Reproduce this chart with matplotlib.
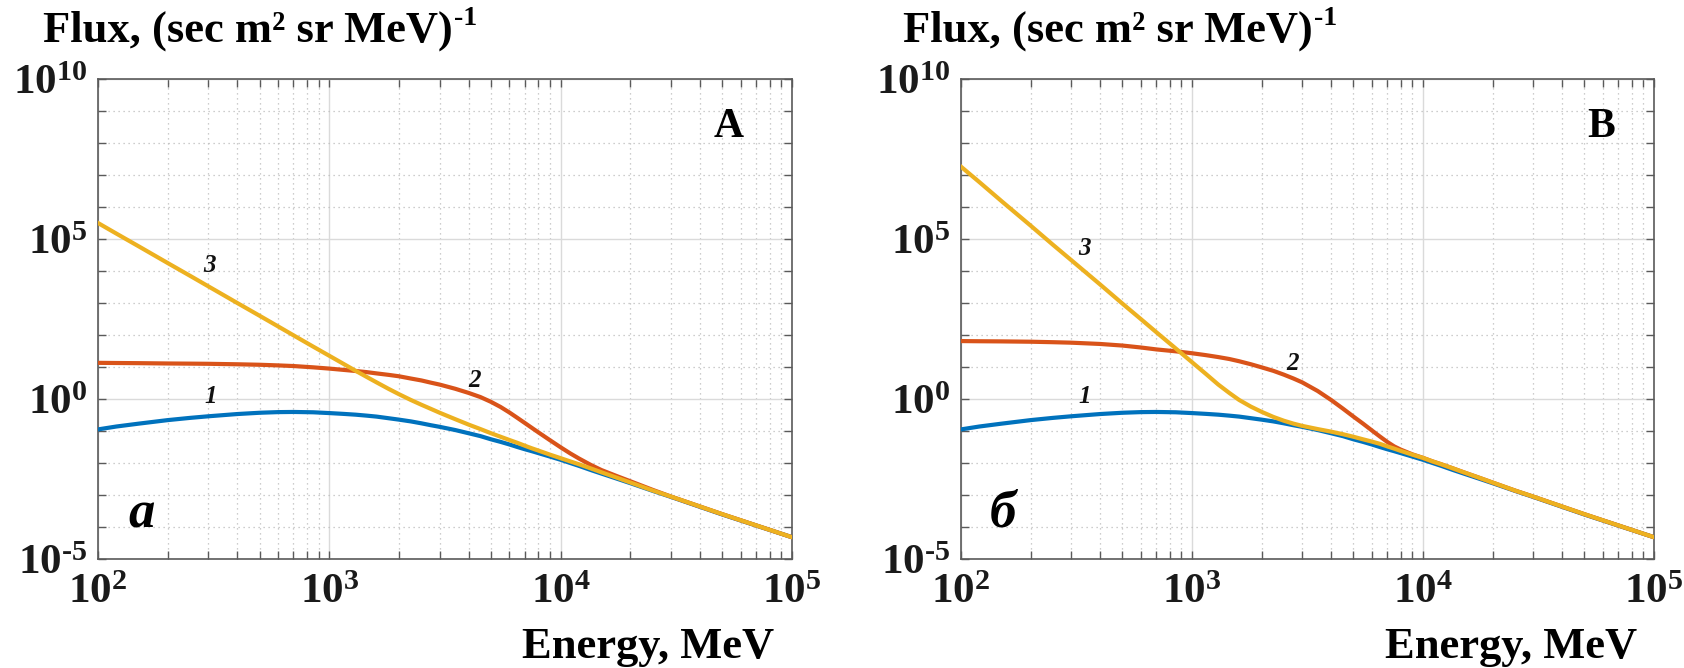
import numpy as np
import matplotlib
matplotlib.use("Agg")
import matplotlib.pyplot as plt
from matplotlib.ticker import FixedLocator, FixedFormatter, NullFormatter, LogLocator

# ---------------- data (log10 of flux) ----------------
energy = [100, 120, 150, 200, 250, 300, 400, 500, 600, 700, 850, 1000, 1150,
          1300, 1450, 1600, 1800, 2000, 2250, 2500, 2750, 3000, 3500, 4000,
          4500, 5000, 5500, 6000, 6500, 7000, 7500, 8000, 9000, 10000, 11000,
          12000, 13500, 15000, 17500, 20000, 25000, 30000, 50000, 100000]

# curve 1 (same in both panels)
log_flux1 = [-0.95, -0.86, -0.77, -0.66, -0.59, -0.54, -0.47, -0.43, -0.41,
             -0.405, -0.415, -0.44, -0.465, -0.49, -0.52, -0.55, -0.60, -0.645,
             -0.70, -0.76, -0.82, -0.87, -0.97, -1.07, -1.16, -1.26, -1.34,
             -1.42, -1.50, -1.57, -1.63, -1.69, -1.80, -1.90, -2.00, -2.09,
             -2.22, -2.33, -2.49, -2.63, -2.87, -3.06, -3.61, -4.32]

# panel A
log_flux2_A = [1.13, 1.125, 1.12, 1.11, 1.105, 1.10, 1.085, 1.07, 1.05, 1.03,
               0.99, 0.95, 0.91, 0.875, 0.84, 0.80, 0.755, 0.71, 0.64, 0.58,
               0.51, 0.45, 0.32, 0.19, 0.06, -0.09, -0.25, -0.42, -0.59, -0.75,
               -0.90, -1.04, -1.29, -1.51, -1.70, -1.86, -2.06, -2.22, -2.41,
               -2.57, -2.84, -3.05, -3.60, -4.32]
log_flux3_A = [5.50, 5.17, 4.77, 4.25, 3.85, 3.52, 3.00, 2.60, 2.27, 1.99,
               1.64, 1.35, 1.10, 0.88, 0.69, 0.52, 0.32, 0.15, -0.03, -0.18,
               -0.31, -0.43, -0.63, -0.80, -0.94, -1.07, -1.18, -1.28, -1.37,
               -1.46, -1.54, -1.61, -1.74, -1.85, -1.95, -2.04, -2.17, -2.29,
               -2.46, -2.61, -2.86, -3.05, -3.60, -4.32]

# panel B
log_flux2_B = [1.81, 1.805, 1.80, 1.79, 1.775, 1.76, 1.72, 1.67, 1.61, 1.55,
               1.49, 1.43, 1.37, 1.31, 1.25, 1.18, 1.085, 0.99, 0.88, 0.76,
               0.64, 0.52, 0.25, -0.03, -0.30, -0.55, -0.77, -0.98, -1.17,
               -1.34, -1.48, -1.58, -1.73, -1.84, -1.95, -2.04, -2.17, -2.29,
               -2.46, -2.61, -2.86, -3.05, -3.60, -4.32]
log_flux3_B = [7.26, 6.78, 6.18, 5.42, 4.82, 4.34, 3.58, 2.98, 2.50, 2.09,
               1.58, 1.15, 0.78, 0.45, 0.19, -0.03, -0.24, -0.40, -0.56, -0.68,
               -0.77, -0.84, -0.94, -1.02, -1.10, -1.18, -1.26, -1.33, -1.40,
               -1.48, -1.55, -1.62, -1.74, -1.84, -1.95, -2.04, -2.17, -2.29,
               -2.46, -2.61, -2.86, -3.05, -3.60, -4.32]

x_ticks = [1e2, 1e3, 1e4, 1e5]
x_ticklabels = [r"$10^{2}$", r"$10^{3}$", r"$10^{4}$", r"$10^{5}$"]
y_ticks = [1e-5, 1e0, 1e5, 1e10]
y_ticklabels = ["$10^{\u20105}$", r"$10^{0}$", r"$10^{5}$", r"$10^{10}$"]
y_minor = [10.0 ** k for k in range(-5, 11)]

panel_letters = ["A", "B"]
panel_tags = ["a", "б"]
ylabel_main = "Flux, (sec m\u00b2 sr MeV)"
ylabel_sup = "-1"
xlabel_text = "Energy, MeV"

# ---------------- style ----------------
plt.rcParams["font.family"] = ["Liberation Serif", "DejaVu Serif"]
plt.rcParams["font.weight"] = "bold"
plt.rcParams["mathtext.fontset"] = "custom"
plt.rcParams["mathtext.rm"] = "Liberation Serif:bold"
plt.rcParams["mathtext.it"] = "Liberation Serif:bold:italic"
plt.rcParams["mathtext.bf"] = "Liberation Serif:bold"
plt.rcParams["mathtext.default"] = "regular"

C1, C2, C3 = "#0072BD", "#D95319", "#EDB120"
SPINE = "#5a5a5a"
LW = 3.0

W, H = 1684, 668
fig = plt.figure(figsize=(W / 100, H / 100), dpi=100)

axA = fig.add_axes([98 / W, (H - 559) / H, 694 / W, 480 / H])
axB = fig.add_axes([961 / W, (H - 559) / H, 693 / W, 480 / H])


def setup(ax):
    ax.set_xscale("log")
    ax.set_yscale("log")
    ax.set_xlim(1e2, 1e5)
    ax.set_ylim(1e-5, 1e10)
    ax.xaxis.set_major_locator(FixedLocator(x_ticks))
    ax.xaxis.set_major_formatter(FixedFormatter(x_ticklabels))
    ax.xaxis.set_minor_locator(LogLocator(base=10, subs=np.arange(2, 10), numticks=50))
    ax.xaxis.set_minor_formatter(NullFormatter())
    ax.yaxis.set_major_locator(FixedLocator(y_ticks))
    ax.yaxis.set_major_formatter(FixedFormatter(y_ticklabels))
    ax.yaxis.set_minor_locator(FixedLocator(y_minor))
    ax.yaxis.set_minor_formatter(NullFormatter())
    ax.set_axisbelow(True)
    ax.grid(which="major", color="#dadada", lw=1.0, ls="-")
    ax.grid(which="minor", color="#bdbdbd", lw=0.9, ls=(0, (1, 3)))
    ax.tick_params(which="both", direction="in", top=True, right=True,
                   length=6, width=1.0, color=SPINE)
    ax.tick_params(axis="x", which="major", labelsize=31, pad=11,
                   labelcolor="#1a1a1a")
    ax.tick_params(axis="y", which="major", labelsize=31, pad=8,
                   labelcolor="#1a1a1a")
    for s in ax.spines.values():
        s.set_color(SPINE)
        s.set_linewidth(1.2)


for ax, f2, f3 in [(axA, log_flux2_A, log_flux3_A), (axB, log_flux2_B, log_flux3_B)]:
    setup(ax)
    ax.plot(energy, 10.0 ** np.array(log_flux1), color=C1, lw=LW, zorder=3)
    ax.plot(energy, 10.0 ** np.array(f2), color=C2, lw=LW, zorder=4)
    ax.plot(energy, 10.0 ** np.array(f3), color=C3, lw=LW, zorder=5)

# curve numbers
num_kw = dict(fontsize=18, fontstyle="italic", fontweight="bold",
              ha="center", va="baseline", color="#111111")
axA.text(0.163, 0.325, "1", transform=axA.transAxes, **num_kw)
axA.text(0.543, 0.358, "2", transform=axA.transAxes, **num_kw)
axA.text(0.161, 0.598, "3", transform=axA.transAxes, **num_kw)
axB.text(0.179, 0.325, "1", transform=axB.transAxes, **num_kw)
axB.text(0.478, 0.394, "2", transform=axB.transAxes, **num_kw)
axB.text(0.1775, 0.633, "3", transform=axB.transAxes, **num_kw)

# panel letters
axA.text(0.909, 0.879, panel_letters[0], transform=axA.transAxes, fontsize=30,
         fontweight="bold", ha="center", va="baseline", color="black")
axB.text(0.9235, 0.879, panel_letters[1], transform=axB.transAxes, fontsize=30,
         fontweight="bold", ha="center", va="baseline", color="black")
axA.text(0.0634, 0.0646, panel_tags[0], transform=axA.transAxes, fontsize=38,
         fontstyle="italic", fontweight="bold", ha="center", va="baseline")
axB.text(0.0606, 0.0667, panel_tags[1], transform=axB.transAxes, fontsize=38,
         fontstyle="italic", fontweight="bold", ha="center", va="baseline")

# axis titles
renderer = fig.canvas.get_renderer()
for xl, xr in [(43, 774), (903, 1637)]:
    t = fig.text(xl / W, 1 - 42 / H, ylabel_main, fontsize=32, fontweight="bold",
                 ha="left", va="baseline", color="black")
    bb = t.get_window_extent(renderer=renderer)
    fig.text((bb.x1 + 1) / W, 1 - 25 / H, ylabel_sup, fontsize=20,
             fontweight="bold", ha="left", va="baseline", color="black")
    fig.text(xr / W, 1 - 658 / H, xlabel_text, fontsize=32, fontweight="bold",
             ha="right", va="baseline", color="black")

fig.savefig("out.png", dpi=100)
